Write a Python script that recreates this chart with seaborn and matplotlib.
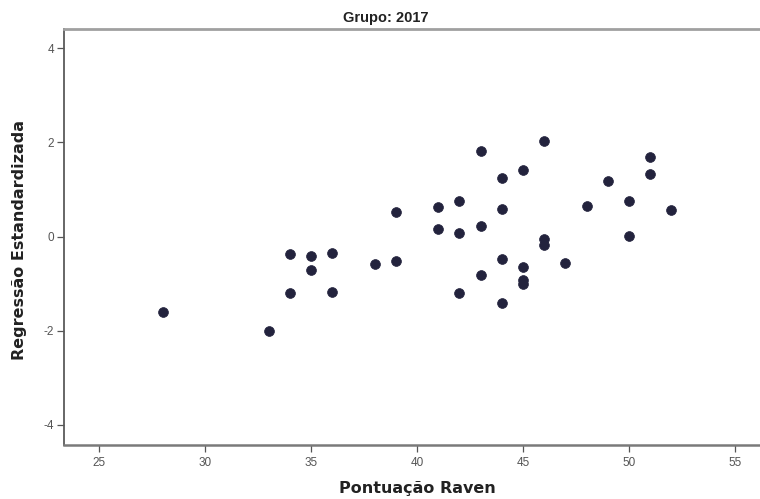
import matplotlib
matplotlib.use("Agg")
import matplotlib.pyplot as plt
import seaborn as sns
import pandas as pd

raven = [28, 33, 34, 34, 35, 35, 36, 36, 38, 39, 39, 41, 41, 42, 42, 42,
         43, 43, 43, 44, 44, 44, 44, 45, 45, 45, 45, 46, 46, 46, 47, 48,
         49, 50, 50, 51, 51, 52]
regressao = [-1.61, -2.00, -0.37, -1.19, -0.42, -0.71, -0.36, -1.18, -0.58,
             -0.53, 0.53, 0.62, 0.17, 0.75, 0.08, -1.20, 1.81, 0.23, -0.81,
             1.25, 0.59, -0.48, -1.42, 1.41, -0.64, -0.92, -1.00, 2.03,
             -0.05, -0.17, -0.57, 0.65, 1.19, 0.75, 0.01, 1.69, 1.32, 0.56]
x_ticks = [25, 30, 35, 40, 45, 50, 55]
y_ticks = [-4, -2, 0, 2, 4]

df = pd.DataFrame({"Pontuação Raven": raven, "Regressão Estandardizada": regressao})

sns.set_style("white")
plt.rcParams["font.family"] = ["Liberation Sans", "DejaVu Sans"]

fig = plt.figure(figsize=(7.6, 4.99), dpi=100)
ax = fig.add_axes([64 / 760, 1 - 445 / 499, 1 - 64 / 760, (445 - 29) / 499])

sns.scatterplot(data=df, x="Pontuação Raven", y="Regressão Estandardizada",
                ax=ax, s=50, color="#23233d", edgecolor="#23233d", linewidth=0.5)

ax.set_xlim(23.35, 56.18)
ax.set_ylim(-4.43, 4.41)
ax.set_xticks(x_ticks)
ax.set_yticks(y_ticks)
ax.set_xticklabels([str(v) for v in x_ticks])
ax.set_yticklabels([str(v) for v in y_ticks])

ax.tick_params(axis="both", direction="out", length=5, width=0.9, color="#555555",
               labelsize=8.5, labelcolor="#555555")
ax.tick_params(axis="x", pad=4)
ax.tick_params(axis="y", pad=2)
ax.tick_params(axis="both", which="both", bottom=True, left=True)

ax.spines["left"].set_color("#5a5a5a")
ax.spines["left"].set_linewidth(1.3)
ax.spines["bottom"].set_color("#7a7a7a")
ax.spines["bottom"].set_linewidth(1.8)
ax.spines["top"].set_color("#a0a0a0")
ax.spines["top"].set_linewidth(2.0)
ax.spines["right"].set_visible(False)

ax.set_xlabel("")
ax.set_ylabel("")
fig.text(417 / 760, 1 - 488 / 499, "Pontuação Raven", ha="center", va="center",
         fontsize=11.5, fontweight="bold", color="#222222", family="DejaVu Sans")
fig.text(20 / 760, 1 - 240 / 499, "Regressão Estandardizada", ha="center", va="center",
         rotation=90, fontsize=11.5, fontweight="bold", color="#222222", family="DejaVu Sans")
fig.text(386 / 760, 1 - 18 / 499, "Grupo: 2017", ha="center", va="center",
         fontsize=10.5, fontweight="bold", color="#222222")

fig.savefig("out.png", dpi=100)
